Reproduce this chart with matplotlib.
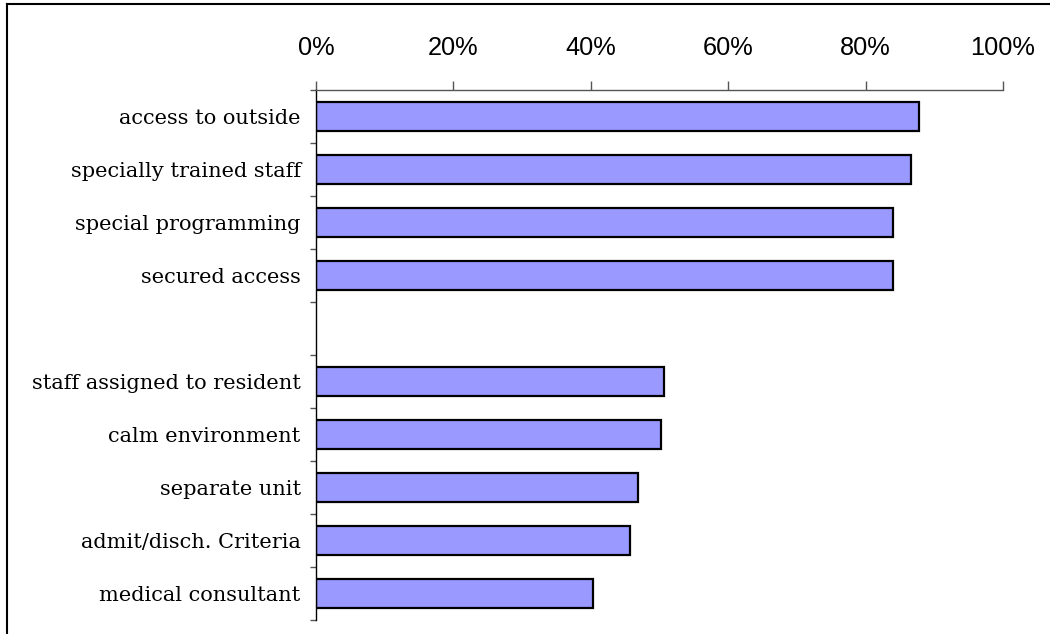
import matplotlib.pyplot as plt
from matplotlib.lines import Line2D

# Data (percent)
top_group = ["access to outside", "specially trained staff",
             "special programming", "secured access"]
top_values = [87.8, 86.6, 84.0, 84.0]
bottom_group = ["staff assigned to resident", "calm environment",
                "separate unit", "admit/disch. Criteria", "medical consultant"]
bottom_values = [50.7, 50.2, 46.9, 45.7, 40.3]
x_ticks = [0, 20, 40, 60, 80, 100]
x_tick_labels = ["0%", "20%", "40%", "60%", "80%", "100%"]

labels = top_group + bottom_group
values = top_values + bottom_values
# one empty slot between the two groups
positions = list(range(len(top_group))) + \
    [len(top_group) + 1 + i for i in range(len(bottom_group))]
n_slots = len(top_group) + 1 + len(bottom_group)

fig = plt.figure(figsize=(10.5, 6.34), dpi=100)
ax = fig.add_axes([316 / 1050, 1 - 620 / 634, 687 / 1050, 530 / 634])

ax.barh(positions, values, height=0.55, color="#9999FF",
        edgecolor="black", linewidth=1.6)

ax.set_xlim(0, 100)
ax.set_ylim(n_slots - 0.5, -0.5)

ax.xaxis.tick_top()
ax.set_xticks(x_ticks)
ax.set_xticklabels(x_tick_labels, family="Liberation Sans", fontsize=18.3)
ax.tick_params(axis="x", direction="out", length=6.5, width=1,
               color="#555555", pad=15)

# category labels at bar centres, tick marks at slot boundaries
ax.set_yticks(positions)
ax.set_yticklabels(labels, family="DejaVu Serif", fontsize=15)
ax.tick_params(axis="y", which="major", length=0, pad=11)
ax.set_yticks([i - 0.5 for i in range(n_slots + 1)], minor=True)
ax.tick_params(axis="y", which="minor", direction="out", length=4.5,
               width=1, color="#555555")

for side in ["right", "bottom"]:
    ax.spines[side].set_visible(False)
ax.spines["top"].set_color("#555555")
ax.spines["top"].set_linewidth(1)
ax.spines["left"].set_color("black")
ax.spines["left"].set_linewidth(1)

# outer frame (top and left edges visible)
fig.add_artist(Line2D([7 / 1050, 1], [1 - 4 / 634, 1 - 4 / 634],
                      color="black", linewidth=1.5))
fig.add_artist(Line2D([7 / 1050, 7 / 1050], [0, 1 - 4 / 634],
                      color="black", linewidth=1.5))

fig.savefig("out.png", dpi=100)
